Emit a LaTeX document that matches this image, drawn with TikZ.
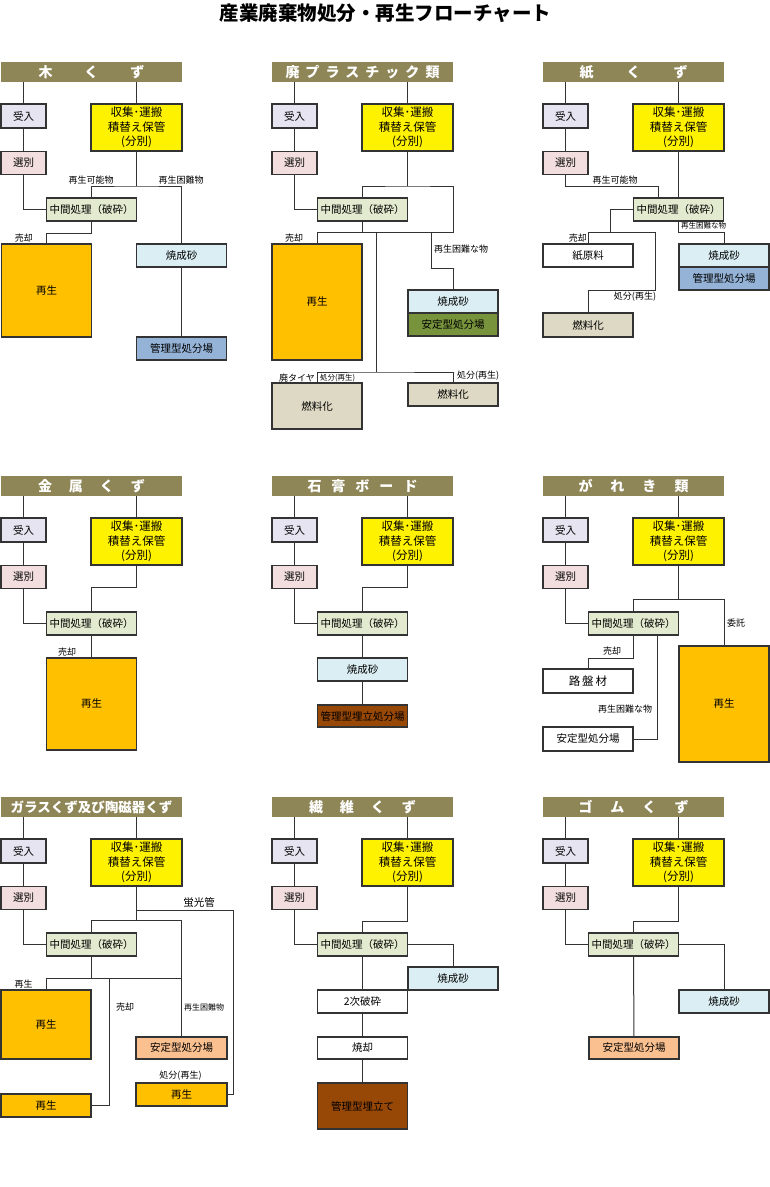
\documentclass[tikz,border=0pt]{standalone}
\usepackage{fontspec}
\setmainfont{Noto Sans CJK JP}
\definecolor{edgeclr}{RGB}{51,51,51}
\definecolor{hdrclr}{RGB}{143,134,88}
\definecolor{ukeclr}{RGB}{230,228,240}
\definecolor{senclr}{RGB}{242,222,222}
\definecolor{midclr}{RGB}{226,235,207}
\definecolor{saiclr}{RGB}{255,192,0}
\definecolor{shoclr}{RGB}{218,238,243}
\definecolor{kanclr}{RGB}{149,179,215}
\definecolor{antclr}{RGB}{119,147,60}
\definecolor{nenclr}{RGB}{221,217,196}
\definecolor{brnclr}{RGB}{151,71,6}
\definecolor{pchclr}{RGB}{250,192,144}
\newcommand\titlefont{\fontsize{19.5}{21}\selectfont\bfseries}
\newcommand\hdrfont{\fontsize{14}{16}\selectfont\bfseries}
\newcommand\yfont{\fontsize{11.5}{14.3}\selectfont}
\newcommand\boxfont{\fontsize{10.5}{12}\selectfont}
\newcommand\lblfont{\fontsize{9}{10}\selectfont}
\newcommand\tnfont{\fontsize{7.5}{8}\selectfont}
\begin{document}
\begin{tikzpicture}[x=1pt, y=-1pt,
    box/.style={draw=edgeclr, line width=1.4pt, inner sep=0pt, minimum
      width=90pt, minimum height=23pt, font=\boxfont, align=center},
    hdr/.style={fill=hdrclr, inner sep=0pt, minimum width=181pt,
      minimum height=20pt, font=\hdrfont, text=white},
    lbl/.style={inner sep=0pt, font=\lblfont},
    link/.style={draw=edgeclr, line width=1pt}]
  \useasboundingbox (0,0) rectangle (770,1187);
  \node[font=\titlefont] (title) at (385.5,13) {産業廃棄物処分・再生フローチャート};
  % common top of each panel
  \foreach \n/\dx/\dy/\ttl in {1/0/0/{木\hspace{32pt}く\hspace{32pt}ず},
    2/271/0/{廃\hspace{6pt}プ\hspace{6pt}ラ\hspace{6pt}ス\hspace{6pt}チ\hspace{6pt}ッ\hspace{6pt}ク\hspace{6pt}類},
    3/542/0/{紙\hspace{33pt}く\hspace{33pt}ず},
    4/0/414/{金\hspace{17pt}属\hspace{17pt}く\hspace{17pt}ず},
    5/271/414/{石\hspace{10pt}膏\hspace{10pt}ボ\hspace{10pt}ー\hspace{10pt}ド},
    6/542/414/{が\hspace{18pt}れ\hspace{18pt}き\hspace{18pt}類},
    7/0/735/{\fontsize{13.5}{15}\selectfont ガラスくず及び陶磁器くず},
    8/271/735/{繊\hspace{17pt}維\hspace{17pt}く\hspace{17pt}ず},
    9/542/735/{ゴ\hspace{18pt}ム\hspace{18pt}く\hspace{18pt}ず}}{
    \begin{scope}[shift={(\dx,\dy)}]
      \node[hdr] (h\n) at (91.5,72) {\ttl};
      \node[box, fill=ukeclr, minimum width=45pt, minimum height=24pt]
      (u\n) at (23.5,116) {受入}; \node[box, fill=senclr, minimum
      width=45pt] (s\n) at (23.5,163) {選別}; \node[box, fill=yellow,
      minimum width=91pt, minimum height=47pt, font=\yfont] (y\n) at
      (136.5,127.5) {収集･運搬\\積替え保管\\(分別)};
      \draw[link] (u\n) -- (u\n |- h\n.south); \draw[link] (y\n) --
      (y\n |- h\n.south); \draw[link] (u\n) -- (s\n);
    \end{scope}}
  % wood
  \node[box, fill=midclr] (m1) at (91.5,209.5) {中間処理（破砕）};
  \node[box, fill=saiclr, minimum height=93pt] (r1) at (46.5,290.5) {再生};
  \node[box, fill=shoclr] (k1) at (181.5,255.5) {焼成砂};
  \node[box, fill=kanclr] (b1) at (181.5,348.5) {管理型処分場};
  \coordinate (j1a) at (136.5,186); \coordinate (j1b) at (91.5,233);
  \draw[link] (y1) -- (j1a); \draw[link] (m1) |- (j1a) -| (k1);
  \draw[link] (s1) |- (m1); \draw[link] (m1) -- (j1b) -| (r1);
  \draw[link] (k1) -- (b1);
  \node[lbl] at (91,180) {再生可能物}; \node[lbl] at (181,180)
  {再生困難物}; \node[lbl] at (24,238) {売却};
  % plastics
  \node[box, fill=midclr] (m2) at (362.5,209.5) {中間処理（破砕）};
  \node[box, fill=saiclr, minimum height=116pt] (r2) at (317,302) {再生};
  \node[box, fill=shoclr] (k2) at (453,301.5) {焼成砂};
  \node[box, fill=antclr] (a2) at (453,324.5) {安定型処分場};
  \node[box, fill=nenclr, minimum height=46pt] (f2) at (317,406) {燃料化};
  \node[box, fill=nenclr] (g2) at (453,394.5) {燃料化};
  \coordinate (j2a) at (407.5,186); \coordinate (j2b) at (362.5,232);
  \coordinate (j2c) at (453,232); \coordinate (j2d) at (376.5,232);
  \coordinate (j2e) at (376.5,372); \coordinate (j2f) at (431,232);
  \draw[link] (y2) -- (j2a); \draw[link] (m2) |- (j2a) -| (j2c) -| (r2);
  \draw[link] (m2) -- (j2b); \draw[link] (s2) |- (m2);
  \draw[link] (j2d) -- (j2e); \draw[link] (f2) |- (j2e) -| (g2);
  \draw[link] (j2f) -- ++(0,36) -| (k2);
  \node[lbl] at (294,238) {売却}; \node[lbl, anchor=west] at (434,249)
  {再生困難な物}; \node[lbl, anchor=east] at (315,378) {廃タイヤ};
  \node[lbl, font=\tnfont, anchor=west] at (320,378) {処分(再生)};
  \node[lbl, anchor=west] at (457,376) {処分(再生)};
  % paper
  \node[box, fill=midclr] (m3) at (678.5,209.5) {中間処理（破砕）};
  \node[box, fill=white] (p3) at (588,255.5) {紙原料};
  \node[box, fill=nenclr, minimum height=24pt] (f3) at (588,325) {燃料化};
  \node[box, fill=shoclr] (k3) at (724,255.5) {焼成砂};
  \node[box, fill=kanclr] (b3) at (724,278.5) {管理型処分場};
  \coordinate (j3a) at (658,186); \coordinate (j3b) at (610,232);
  \coordinate (j3c) at (655,232); \coordinate (j3d) at (655,290);
  \coordinate (j3e) at (678.5,232);
  \draw[link] (s3) |- (j3a) -- (j3a |- m3.north); \draw[link] (y3) -- (m3);
  \draw[link] (m3) -| (j3b); \draw[link] (p3) |- (j3c) -- (j3d) -| (f3);
  \draw[link] (m3) -- (j3e) -| (k3);
  \node[lbl] at (615,180) {再生可能物}; \node[lbl, anchor=east] at
  (587,238) {売却}; \node[lbl] at (635,297) {処分(再生)};
  \node[lbl, font=\tnfont, anchor=west] at (681,226) {再生困難な物};
  % metal
  \node[box, fill=midclr] (m4) at (91.5,623.5) {中間処理（破砕）};
  \node[box, fill=saiclr, minimum height=92pt] (r4) at (91.5,704) {再生};
  \coordinate (j4) at (136.5,587);
  \draw[link] (y4) -- (j4) -| (m4); \draw[link] (s4) |- (m4);
  \draw[link] (m4) -- (r4);
  \node[lbl] at (67,652) {売却};
  % gypsum board
  \node[box, fill=midclr] (m5) at (362.5,623.5) {中間処理（破砕）};
  \node[box, fill=shoclr] (k5) at (362.5,669.5) {焼成砂};
  \node[box, fill=brnclr, minimum height=22pt] (d5) at (362.5,716)
  {管理型埋立処分場};
  \coordinate (j5) at (407.5,587);
  \draw[link] (y5) -- (j5) -| (m5); \draw[link] (s5) |- (m5);
  \draw[link] (m5) -- (k5); \draw[link] (k5) -- (d5);
  % debris
  \node[box, fill=midclr] (m6) at (633.5,623.5) {中間処理（破砕）};
  \node[box, fill=saiclr, minimum height=116pt] (r6) at (724,704) {再生};
  \node[box, fill=white, minimum height=24pt, font=\yfont] (q6) at
  (588,681) {路\hspace{2pt}盤\hspace{2pt}材};
  \node[box, fill=white, minimum height=24pt] (a6) at (588,739)
  {安定型処分場};
  \coordinate (j6) at (678.5,599); \coordinate (j6b) at (633.5,658);
  \coordinate (j6c) at (657,635);
  \draw[link] (y6) -- (j6); \draw[link] (m6) |- (j6) -| (r6);
  \draw[link] (s6) |- (m6); \draw[link] (m6) -- (j6b) -| (q6);
  \draw[link] (j6c) |- (a6);
  \node[lbl, anchor=west] at (727,623) {委託}; \node[lbl] at (612,651)
  {売却}; \node[lbl] at (625,709) {再生困難な物};
  % glass and ceramics
  \node[box, fill=midclr] (m7) at (91.5,944.5) {中間処理（破砕）};
  \node[box, fill=saiclr, minimum height=69pt] (r7) at (46,1024.5) {再生};
  \node[box, fill=pchclr, minimum width=91pt, minimum height=22pt] (a7)
  at (181.5,1048) {安定型処分場};
  \node[box, fill=saiclr, minimum width=91pt] (e7) at (181.5,1094.5) {再生};
  \node[box, fill=saiclr] (w7) at (46,1105.5) {再生};
  \coordinate (j7a) at (136.5,920); \coordinate (j7b) at (136.5,910);
  \coordinate (j7c) at (233,910); \coordinate (j7e) at (91.5,978);
  \coordinate (j7f) at (181.5,978); \coordinate (j7g) at (109,978);
  \draw[link] (y7) -- (j7a); \draw[link] (m7) |- (j7a) -| (a7);
  \draw[link] (j7b) -- (j7c) |- (e7); \draw[link] (s7) |- (m7);
  \draw[link] (m7) -- (j7e); \draw[link] (r7) |- (j7f);
  \draw[link] (j7g) |- (w7);
  \node[lbl, font=\boxfont] at (199,903) {蛍光管}; \node[lbl] at
  (23.5,984) {再生}; \node[lbl] at (125,1007) {売却}; \node[lbl,
  font=\fontsize{8}{9}\selectfont] at (204,1007) {再生困難物};
  \node[lbl] at (180.5,1076) {処分(再生)};
  % fibre
  \node[box, fill=midclr] (m8) at (362.5,944.5) {中間処理（破砕）};
  \node[box, fill=shoclr] (k8) at (453,978.5) {焼成砂};
  \node[box, fill=white] (t8) at (362.5,1001.5) {2次破砕};
  \node[box, fill=white, minimum height=22pt] (i8) at (362.5,1048) {焼却};
  \node[box, fill=brnclr, minimum height=46pt] (d8) at (362.5,1106)
  {管理型埋立て};
  \coordinate (j8) at (407.5,921);
  \draw[link] (y8) -- (j8) -| (m8); \draw[link] (s8) |- (m8);
  \draw[link] (m8) -| (k8); \draw[link] (m8) -- (t8);
  \draw[link] (t8) -- (i8); \draw[link] (i8) -- (d8);
  % rubber
  \node[box, fill=midclr] (m9) at (633.5,944.5) {中間処理（破砕）};
  \node[box, fill=shoclr] (k9) at (724,1001.5) {焼成砂};
  \node[box, fill=pchclr, minimum height=22pt] (a9) at (634,1048)
  {安定型処分場};
  \coordinate (j9) at (678.5,921);
  \draw[link] (y9) -- (j9) -| (m9); \draw[link] (s9) |- (m9);
  \draw[link] (m9) -| (k9); \draw[link] (m9) -- (a9);
\end{tikzpicture}
\end{document}
